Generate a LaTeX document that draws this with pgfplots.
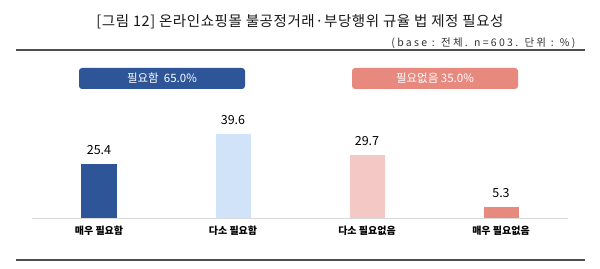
\documentclass[border=0pt]{standalone}
\usepackage{fontspec}
\setmainfont{Noto Sans CJK KR}
\usepackage{pgfplots}
\pgfplotsset{compat=1.18}
\definecolor{cA}{HTML}{2E5597}
\definecolor{cB}{HTML}{D0E3F8}
\definecolor{cC}{HTML}{F4C9C5}
\definecolor{cD}{HTML}{E8897F}
\definecolor{lineg}{HTML}{4D4D4D}
\definecolor{axg}{HTML}{D9D9D9}
\begin{document}
\begin{tikzpicture}[x=1pt,y=1pt]
\useasboundingbox (0,0) rectangle (600,268);
\fill[white] (0,0) rectangle (600,268);
\node[font=\fontsize{14.5}{16}\selectfont\addfontfeatures{LetterSpace=4}, text=black!90] at (300,246) {[그림 12] 온라인쇼핑몰 불공정거래·부당행위 규율 법 제정 필요성};
\node[anchor=east,font=\fontsize{10.5}{12}\selectfont\addfontfeatures{LetterSpace=22}, text=black!80] at (579,225) {(base : 전체. n=603. 단위 : \%)};
\draw[line width=1.2pt, color=lineg] (16,218) -- (585,218);
\draw[line width=1.2pt, color=lineg] (16,8) -- (585,8);
\fill[cA, rounded corners=3pt] (79,179) rectangle (245,200);
\node[white, font=\fontsize{11.5}{13}\selectfont] at (162,189.5) {필요함\ \ 65.0\%};
\fill[cD, rounded corners=3pt] (352,179) rectangle (518,200);
\node[white, font=\fontsize{11.5}{13}\selectfont] at (435,189.5) {필요없음 35.0\%};
\begin{axis}[
  at={(32pt,50pt)}, anchor=south west,
  width=536pt, height=106pt, scale only axis,
  xmin=-0.5, xmax=3.5, ymin=0, ymax=50,
  axis x line=bottom, axis y line=none,
  x axis line style={-, color=axg, line width=0.8pt},
  xtick={0,1,2,3},
  xticklabels={매우 필요함, 다소 필요함, 다소 필요없음, 매우 필요없음},
  xticklabel style={font=\bfseries\fontsize{10}{12}\selectfont, yshift=-4.5pt},
  major tick length=0pt,
  ybar, bar width=35pt,
  clip=false,
  /pgf/number format/assume math mode=true,
  nodes near coords={\pgfmathprintnumber[fixed,precision=1,fixed zerofill]{\pgfplotspointmeta}},
  every node near coord/.append style={font=\fontsize{12.5}{14}\selectfont, text=black, yshift=6pt},
]
\addplot[fill=cA, draw=none, bar shift=0pt] coordinates {(0,25.4)};
\addplot[fill=cB, draw=none, bar shift=0pt] coordinates {(1,39.6)};
\addplot[fill=cC, draw=none, bar shift=0pt] coordinates {(2,29.7)};
\addplot[fill=cD, draw=none, bar shift=0pt] coordinates {(3,5.3)};
\end{axis}
\end{tikzpicture}
\end{document}
